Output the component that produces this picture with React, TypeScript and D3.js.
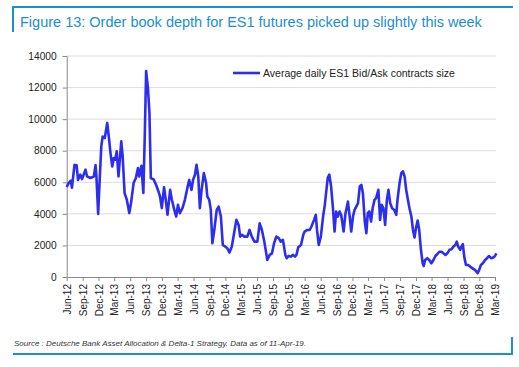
import React, { useEffect, useRef } from "react";
import * as d3 from "d3";

const title = "Figure 13: Order book depth for ES1 futures picked up slightly this week";
const source = "Source : Deutsche Bank Asset Allocation & Delta-1 Strategy. Data as of 11-Apr-19.";
const seriesName = "Average daily ES1 Bid/Ask contracts size";

const dates = [
  "2012-06-01", "2012-06-12", "2012-06-25", "2012-07-01", "2012-07-16", "2012-07-28", "2012-08-05", "2012-08-18", "2012-08-28", "2012-09-17",
  "2012-09-26", "2012-10-15", "2012-11-04", "2012-11-14", "2012-11-19", "2012-11-29", "2012-12-06", "2012-12-17", "2012-12-25", "2013-01-06",
  "2013-01-20", "2013-01-29", "2013-02-08", "2013-02-18", "2013-02-27", "2013-03-07", "2013-03-16", "2013-03-26", "2013-04-11", "2013-04-19",
  "2013-04-30", "2013-05-13", "2013-05-27", "2013-06-06", "2013-06-21", "2013-07-04", "2013-07-16", "2013-07-23", "2013-08-05", "2013-08-16",
  "2013-08-24", "2013-09-01", "2013-09-12", "2013-09-20", "2013-09-28", "2013-10-13", "2013-10-28", "2013-11-11", "2013-11-20", "2013-11-30",
  "2013-12-13", "2013-12-23", "2014-01-02", "2014-01-17", "2014-01-27", "2014-02-10", "2014-02-21", "2014-03-03", "2014-03-14", "2014-03-29",
  "2014-04-12", "2014-04-26", "2014-05-07", "2014-05-20", "2014-05-29", "2014-06-09", "2014-06-18", "2014-06-28", "2014-07-07", "2014-07-17",
  "2014-07-30", "2014-08-12", "2014-08-19", "2014-08-30", "2014-09-08", "2014-09-17", "2014-09-27", "2014-10-12", "2014-10-23", "2014-11-05",
  "2014-11-16", "2014-11-29", "2014-12-12", "2014-12-24", "2015-01-07", "2015-01-20", "2015-02-02", "2015-02-15", "2015-02-24", "2015-03-06",
  "2015-03-21", "2015-04-06", "2015-04-19", "2015-05-02", "2015-05-17", "2015-06-03", "2015-06-16", "2015-06-29", "2015-07-11", "2015-07-24",
  "2015-07-30", "2015-08-13", "2015-08-26", "2015-09-07", "2015-09-20", "2015-10-04", "2015-10-15", "2015-10-28", "2015-11-11", "2015-11-19",
  "2015-11-30", "2015-12-12", "2015-12-25", "2016-01-05", "2016-01-14", "2016-01-24", "2016-02-09", "2016-02-22", "2016-03-01", "2016-03-16",
  "2016-03-30", "2016-04-09", "2016-04-24", "2016-05-04", "2016-05-11", "2016-05-21", "2016-06-02", "2016-06-15", "2016-06-25", "2016-07-02",
  "2016-07-12", "2016-07-21", "2016-07-31", "2016-08-10", "2016-08-20", "2016-08-29", "2016-09-08", "2016-09-18", "2016-09-27", "2016-10-11",
  "2016-10-22", "2016-11-05", "2016-11-15", "2016-11-24", "2016-12-04", "2016-12-13", "2016-12-23", "2017-01-02", "2017-01-12", "2017-01-21",
  "2017-01-30", "2017-02-10", "2017-02-19", "2017-02-27", "2017-03-08", "2017-03-18", "2017-03-27", "2017-04-07", "2017-04-16", "2017-04-29",
  "2017-05-09", "2017-05-18", "2017-05-28", "2017-06-07", "2017-06-17", "2017-06-26", "2017-07-06", "2017-07-17", "2017-07-30", "2017-08-10",
  "2017-08-17", "2017-08-29", "2017-09-08", "2017-09-17", "2017-09-27", "2017-10-06", "2017-10-16", "2017-10-25", "2017-11-05", "2017-11-14",
  "2017-11-23", "2017-12-01", "2017-12-11", "2017-12-20", "2017-12-30", "2018-01-09", "2018-01-15", "2018-01-23", "2018-02-04", "2018-02-16",
  "2018-02-28", "2018-03-12", "2018-03-23", "2018-04-04", "2018-04-15", "2018-04-27", "2018-05-08", "2018-05-20", "2018-05-31", "2018-06-12",
  "2018-06-24", "2018-07-05", "2018-07-16", "2018-07-24", "2018-08-01", "2018-08-13", "2018-08-20", "2018-08-28", "2018-09-05", "2018-09-15",
  "2018-09-28", "2018-10-09", "2018-10-23", "2018-11-06", "2018-11-21", "2018-11-30", "2018-12-10", "2018-12-21", "2019-01-03", "2019-01-14",
  "2019-01-25", "2019-02-08", "2019-02-19", "2019-03-01", "2019-03-09",
];

const values = [
  5700, 5950, 6100, 5650, 7100, 7080, 6150, 6480, 6200, 6800,
  6370, 6270, 6370, 7090, 6370, 4000, 5730, 8280, 8900, 8800,
  9760, 8900, 7850, 7000, 7540, 7430, 7960, 6370, 8590, 7640,
  5320, 4890, 4050, 4680, 5950, 6270, 6900, 6370, 7050, 5320,
  8900, 13040, 11880, 10400, 6250, 6200, 5840, 5420, 5100, 4360,
  5690, 4890, 3940, 5520, 4890, 4250, 3830, 4570, 4040, 4360,
  4890, 5630, 6150, 5520, 6150, 6480, 7110, 6370, 4360, 5520,
  6580, 5950, 5100, 4890, 4250, 2140, 2880, 4250, 4460, 3830,
  2030, 1930, 1820, 1550, 1930, 2770, 3620, 3300, 2560, 2670,
  2560, 2560, 2980, 2560, 2240, 2240, 3400, 2980, 2350, 1500,
  1080, 1400, 1500, 2140, 2560, 2460, 2240, 2350, 1400, 1190,
  1340, 1290, 1400, 1290, 1400, 1890, 2030, 2670, 2880, 2980,
  2980, 3200, 3620, 3940, 2980, 2030, 2560, 3830, 4570, 5300,
  6300, 6480, 5740, 4460, 2880, 4150, 3830, 4150, 3940, 2880,
  4040, 4780, 3830, 2880, 3830, 4250, 4460, 4680, 5740, 5840,
  5310, 3510, 2770, 4040, 4150, 3510, 4360, 4890, 5000, 5520,
  3620, 4570, 4360, 3300, 4890, 5520, 4680, 4360, 4250, 3940,
  4890, 5950, 6580, 6690, 6370, 5520, 4890, 4360, 3830, 2980,
  2500, 3090, 3580, 2980, 1720, 870, 700, 1080, 1190, 1080,
  870, 1080, 1330, 1460, 1600, 1600, 1500, 1400, 1500, 1720,
  1760, 1930, 2030, 2240, 1930, 1720, 1930, 2080, 1290, 760,
  760, 660, 550, 450, 240, 450, 760, 870, 1080, 1190,
  1330, 1190, 1240, 1330, 1500,
];

const yTicks = [0, 2000, 4000, 6000, 8000, 10000, 12000, 14000];
const xStart = "2012-06-01";
const xEnd = "2019-03-01";

const W = 519;
const H = 367;
const blue = "#1b8fcf";
const lineColor = "#2d2df0";

const App = () => {
  const ref = useRef(null);

  useEffect(() => {
    document.body.style.margin = "0";
    const svg = d3.select(ref.current);
    svg.selectAll("*").remove();

    const parse = d3.timeParse("%Y-%m-%d");
    const data = dates.map((d, i) => ({ date: parse(d), value: values[i] }));

    const left = 66.7;
    const right = 495;
    const top = 56;
    const bottom = 277;

    const x = d3.scaleTime().domain([parse(xStart), parse(xEnd)]).range([left, right]);
    const y = d3.scaleLinear().domain([0, 14000]).range([bottom, top]);

    svg.append("rect").attr("width", W).attr("height", H).attr("fill", "white");

    // frame: top bar + left stub, bottom bar + right stub
    svg.append("line").attr("x1", 12).attr("x2", 513).attr("y1", 7).attr("y2", 7)
      .attr("stroke", blue).attr("stroke-width", 2);
    svg.append("line").attr("x1", 13).attr("x2", 13).attr("y1", 6).attr("y2", 32)
      .attr("stroke", blue).attr("stroke-width", 2);
    svg.append("line").attr("x1", 13).attr("x2", 513).attr("y1", 354).attr("y2", 354)
      .attr("stroke", blue).attr("stroke-width", 2);
    svg.append("line").attr("x1", 512).attr("x2", 512).attr("y1", 337).attr("y2", 355)
      .attr("stroke", blue).attr("stroke-width", 2);

    svg.append("text").attr("x", 20).attr("y", 27).text(title)
      .attr("fill", blue).style("font-family", "Liberation Sans, Arial, sans-serif").style("font-size", "14.5px");

    svg.append("text").attr("x", 14).attr("y", 346).text(source)
      .attr("fill", "#333").style("font-family", "Liberation Sans, Arial, sans-serif")
      .style("font-size", "8px").style("font-style", "italic");

    // gridlines
    svg.append("g").selectAll("line").data(yTicks.filter((t) => t > 0)).join("line")
      .attr("x1", left).attr("x2", 496)
      .attr("y1", (d) => y(d)).attr("y2", (d) => y(d))
      .attr("stroke", "#dcdce4").attr("stroke-width", 1);

    // y axis
    const yAxis = svg.append("g").attr("transform", `translate(${left},0)`)
      .call(d3.axisLeft(y).tickValues(yTicks).tickSize(4).tickPadding(6).tickFormat(d3.format("d")));
    yAxis.select(".domain").attr("stroke", "#888");
    yAxis.selectAll(".tick line").attr("stroke", "#888");
    yAxis.selectAll("text").attr("fill", "#222")
      .style("font-family", "Liberation Sans, Arial, sans-serif").style("font-size", "10.2px");

    // x axis, quarterly ticks starting in June
    const xTicks = d3.timeMonth.range(parse(xStart), d3.timeDay.offset(parse(xEnd), 1), 3);
    const xAxis = svg.append("g").attr("transform", `translate(0,${bottom})`)
      .call(d3.axisBottom(x).tickValues(xTicks).tickSize(4).tickSizeOuter(0).tickFormat(d3.timeFormat("%b-%y")));
    xAxis.select(".domain").attr("stroke", "#888");
    xAxis.selectAll(".tick line").attr("stroke", "#888");
    xAxis.selectAll("text")
      .attr("fill", "#222")
      .attr("transform", "rotate(-90)")
      .attr("x", -7)
      .attr("y", 0)
      .attr("dy", "0.35em")
      .attr("text-anchor", "end")
      .style("font-family", "Liberation Sans, Arial, sans-serif").style("font-size", "10px");

    const line = d3.line().x((d) => x(d.date)).y((d) => y(d.value));
    svg.append("path").datum(data).attr("d", line)
      .attr("fill", "none").attr("stroke", lineColor).attr("stroke-width", 2.6)
      .attr("stroke-linejoin", "round");

    // legend
    const legend = svg.append("g").attr("transform", "translate(233,73)");
    legend.append("line").attr("x1", 0).attr("x2", 27).attr("y1", 0).attr("y2", 0)
      .attr("stroke", lineColor).attr("stroke-width", 2.6);
    legend.append("text").attr("x", 30).attr("y", 4).text(seriesName)
      .attr("fill", "#222").style("font-family", "Liberation Sans, Arial, sans-serif").style("font-size", "10.5px");
  }, []);

  return <svg ref={ref} width={W} height={H} style={{ display: "block" }}></svg>;
};

export default App;
